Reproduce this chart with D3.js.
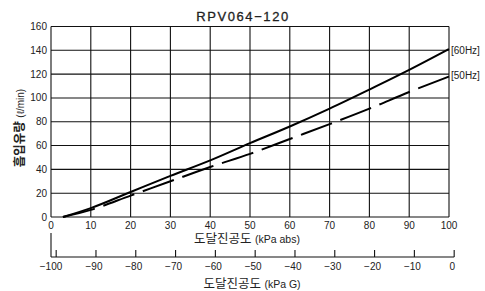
<!DOCTYPE html>
<html>
<head>
<meta charset="utf-8">
<script src="https://cdn.jsdelivr.net/npm/d3@7"></script>
<style>
  body { margin: 0; background: #fff; }
  text { font-family: "Liberation Sans", "Noto Sans CJK KR", sans-serif; fill: #222; }
</style>
</head>
<body>
<div id="chart"></div>
<script>
const title = 'RPV064\u2212120';

// kPa abs vs flow (l/min)
const absVals = [3, 10, 20, 30, 40, 50, 60, 70, 80, 90, 100];
const flow60 = [0, 7.5, 21, 34.5, 47.5, 62, 76, 91, 107, 123.5, 141];
const flow50 = [0, 6, 18, 30, 42, 53, 65.5, 78, 91, 105, 118];

const xTicks = [0, 10, 20, 30, 40, 50, 60, 70, 80, 90, 100];
const yTicks = [0, 20, 40, 60, 80, 100, 120, 140, 160];
const gTicks = [-100, -90, -80, -70, -60, -50, -40, -30, -20, -10, 0];
const atmOffset = 101.3;

const width = 485, height = 291;
const svg = d3.select('#chart').append('svg').attr('width', width).attr('height', height);

const x = d3.scaleLinear().domain([0, 100]).range([51, 449]);
const y = d3.scaleLinear().domain([0, 160]).range([217, 26.5]);

// grid
const g = svg.append('g');
g.selectAll('line.vx')
  .data(xTicks)
  .enter()
  .append('line')
  .attr('x1', (d) => x(d)).attr('x2', (d) => x(d))
  .attr('y1', y(0)).attr('y2', y(160))
  .attr('stroke', '#111').attr('stroke-width', 1.1);
g.selectAll('line.hy')
  .data(yTicks)
  .enter()
  .append('line')
  .attr('x1', x(0)).attr('x2', x(100))
  .attr('y1', (d) => y(d)).attr('y2', (d) => y(d))
  .attr('stroke', '#111').attr('stroke-width', 1.1);

// tick labels
g.selectAll('text.xt')
  .data(xTicks)
  .enter()
  .append('text')
  .attr('x', (d) => x(d)).attr('y', 229)
  .attr('text-anchor', 'middle').attr('font-size', 10)
  .text((d) => d);
g.selectAll('text.yt')
  .data(yTicks)
  .enter()
  .append('text')
  .attr('x', 47).attr('y', (d) => y(d) + 3.5)
  .attr('text-anchor', 'end').attr('font-size', 10)
  .text((d) => d);

// curves
const line = d3.line().x((d) => x(d[0])).y((d) => y(d[1])).curve(d3.curveMonotoneX);
svg.append('path')
  .datum(absVals.map((v, i) => [v, flow60[i]]))
  .attr('d', line).attr('fill', 'none').attr('stroke', '#000').attr('stroke-width', 2);
svg.append('path')
  .datum(absVals.map((v, i) => [v, flow50[i]]))
  .attr('d', line).attr('fill', 'none').attr('stroke', '#000').attr('stroke-width', 2)
  .attr('stroke-dasharray', '33,9');

svg.append('text').attr('x', 451).attr('y', y(140) + 3.5).attr('font-size', 10).text('[60Hz]');
svg.append('text').attr('x', 451).attr('y', y(120) + 5).attr('font-size', 10).text('[50Hz]');

// title
svg.append('text')
  .attr('x', 243).attr('y', 20.5)
  .attr('text-anchor', 'middle').attr('font-size', 13)
  .attr('letter-spacing', 1.6)
  .attr('stroke', '#222').attr('stroke-width', 0.3)
  .text(title);

// axis labels
const xl = svg.append('text').attr('x', 247).attr('y', 243).attr('text-anchor', 'middle');
xl.append('tspan').attr('font-size', 12.5).text('도달진공도 ');
xl.append('tspan').attr('font-size', 10.5).text('(kPa abs)');

const yl = svg.append('text')
  .attr('transform', 'translate(24,128) rotate(-90)')
  .attr('text-anchor', 'middle');
yl.append('tspan').attr('font-size', 12.5).attr('font-weight', 'bold').text('흡입유량 ');
yl.append('tspan').attr('font-size', 10).text('(ℓ/min)');

// secondary gauge-pressure axis
const xg = d3.scaleLinear().domain([-atmOffset, 100 - atmOffset]).range([x(0), x(100)]);
const axisY = 257;
svg.append('line')
  .attr('x1', x(0)).attr('x2', xg(0)).attr('y1', axisY).attr('y2', axisY)
  .attr('stroke', '#111').attr('stroke-width', 1.1);
svg.append('line')
  .attr('x1', x(0)).attr('x2', x(0)).attr('y1', 233).attr('y2', axisY)
  .attr('stroke', '#111').attr('stroke-width', 1.1);
svg.selectAll('line.gt')
  .data(gTicks)
  .enter()
  .append('line')
  .attr('x1', (d) => xg(d)).attr('x2', (d) => xg(d))
  .attr('y1', axisY - 7).attr('y2', axisY)
  .attr('stroke', '#111').attr('stroke-width', 1.1);
svg.selectAll('text.gl')
  .data(gTicks)
  .enter()
  .append('text')
  .attr('x', (d) => (d === -100 ? x(0) : xg(d) - 2))
  .attr('y', 270)
  .attr('text-anchor', 'middle').attr('font-size', 10)
  .text((d) => (d < 0 ? '\u2212' + Math.abs(d) : d));

const gl = svg.append('text').attr('x', 252).attr('y', 288).attr('text-anchor', 'middle');
gl.append('tspan').attr('font-size', 12.5).text('도달진공도 ');
gl.append('tspan').attr('font-size', 10.5).text('(kPa G)');
</script>
</body>
</html>
